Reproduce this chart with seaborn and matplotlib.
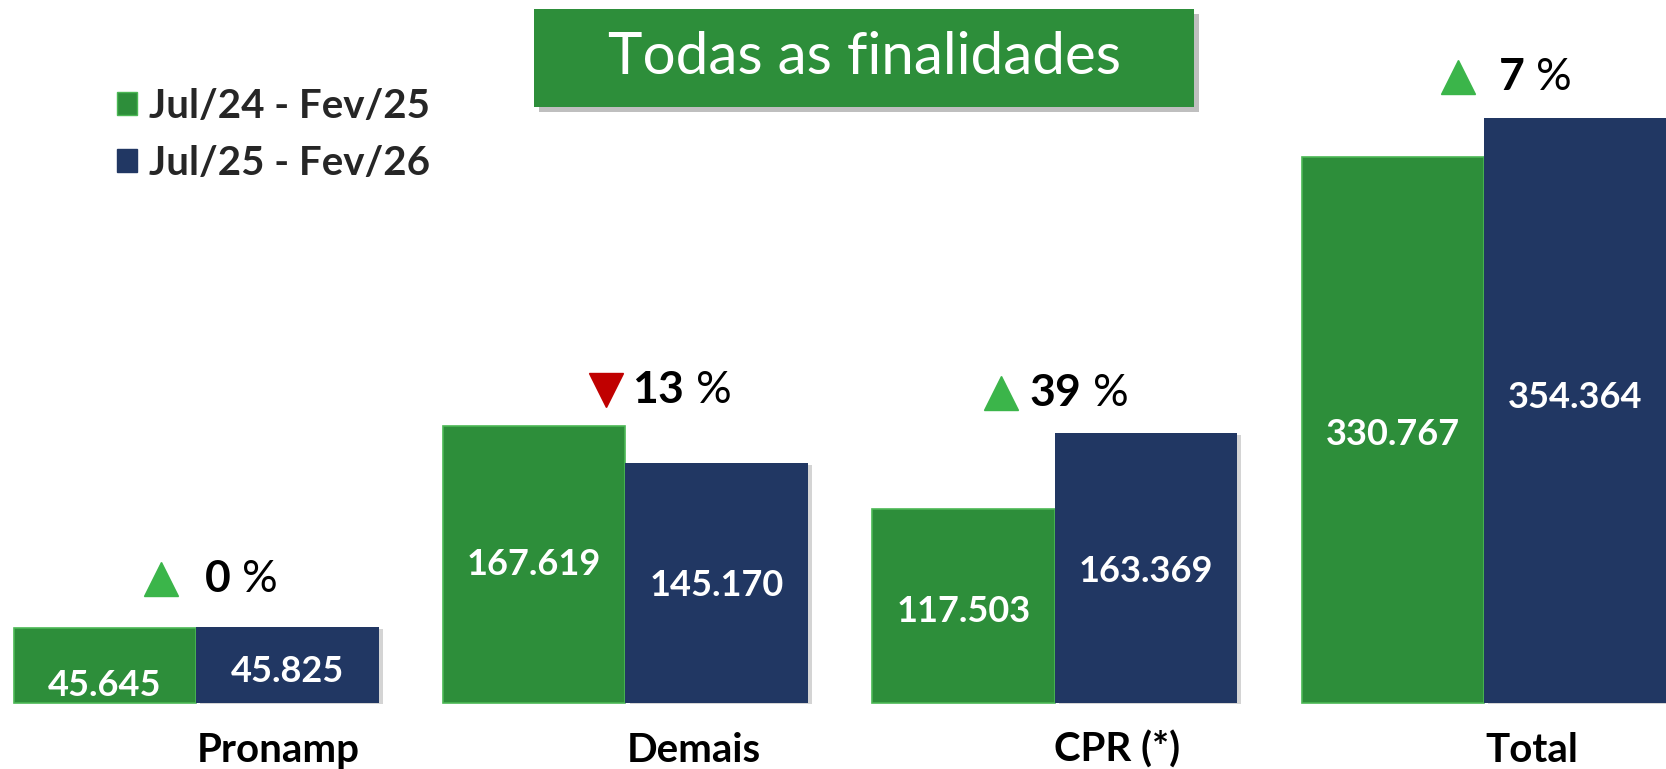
import numpy as np
import pandas as pd
import matplotlib
matplotlib.use('Agg')
import matplotlib.pyplot as plt
import matplotlib.patheffects as pe
import seaborn as sns
from matplotlib.patches import Rectangle, Patch
from matplotlib.transforms import offset_copy

# ---------------- data ----------------
categories = ['Pronamp', 'Demais', 'CPR (*)', 'Total']
periods = ['Jul/24 - Fev/25', 'Jul/25 - Fev/26']
values_prev = [45645, 167619, 117503, 330767]
values_curr = [45825, 145170, 163369, 354364]
title = 'Todas as finalidades'

# ---------------- style ----------------
GREEN = '#2D8E3A'
NAVY = '#213763'
UP = '#3BB54A'
DOWN = '#C00000'
FONT = 'Lato'

# layout offsets (pixels) for annotations
tri_dx = [-35, -19, -54, -26]
txt_dx = [8, 7, -26, 14]
pct_dy = [48, 36, 40, 41]
cat_dx = [82, 68, 62, 48]
lab_dy_prev = [-20, 0, -5, -5]
lab_dy_curr = [-6, -2, -3, 13]

sns.set_theme(style='white')
plt.rcParams['font.family'] = [FONT, 'DejaVu Sans']
plt.rcParams['mathtext.fontset'] = 'custom'
plt.rcParams['mathtext.bf'] = FONT + ':bold'
plt.rcParams['mathtext.rm'] = FONT
plt.rcParams['mathtext.it'] = FONT + ':italic'

df = pd.DataFrame({
    'cat': categories * 2,
    'period': [periods[0]] * len(categories) + [periods[1]] * len(categories),
    'val': values_prev + values_curr,
})

fig = plt.figure(figsize=(16.66, 7.69), dpi=100)
ax = fig.add_axes([0, 0, 1, 1])
sns.barplot(data=df, x='cat', y='val', hue='period', order=categories,
            hue_order=periods, palette=[GREEN, NAVY], saturation=1,
            width=0.85, errorbar=None, legend=False, ax=ax, linewidth=0)
ax.set_xlim(-0.457, 3.424)
ax.set_ylim(-39980, 425850)
ax.set_axis_off()

for p in ax.containers[0]:
    p.set_edgecolor('#4CB855')
    p.set_linewidth(1.2)
for p in ax.containers[1]:
    p.set_path_effects([pe.SimplePatchShadow(offset=(3, -1), alpha=0.25,
                                             shadow_rgbFace='#555555'), pe.Normal()])


def fmt(v):
    return f"{v:,.0f}".replace(',', '.')


for cont, vals, dys in zip(ax.containers, [values_prev, values_curr],
                           [lab_dy_prev, lab_dy_curr]):
    texts = ax.bar_label(cont, labels=[fmt(v) for v in vals], label_type='center',
                         color='white', fontsize=26, fontweight='bold')
    for t, d in zip(texts, dys):
        t.xyann = (0, d * 0.72)

# percentage change annotations
for i, (a, b) in enumerate(zip(values_prev, values_curr)):
    top = max(a, b)
    ch = (b / a - 1) * 100
    up = ch >= 0
    tr = offset_copy(ax.transData, fig=fig, x=tri_dx[i], y=pct_dy[i], units='dots')
    ax.plot([i], [top], marker='^' if up else 'v', ms=24.5,
            color=UP if up else DOWN, transform=tr, clip_on=False)
    ax.annotate(r'$\mathbf{%d}$ %%' % round(abs(ch)), xy=(i, top),
                xytext=(txt_dx[i], pct_dy[i]), textcoords='offset pixels',
                ha='left', va='center', fontsize=32, color='black')

# category labels
for i, c in enumerate(categories):
    ax.annotate(c, xy=(i, 0), xytext=(cat_dx[i], -47), textcoords='offset pixels',
                ha='center', va='center', fontsize=29, fontweight='bold',
                color='black', annotation_clip=False)

# title box
W, H = 1666, 769
x0, y0, x1, y1 = 534, 8.5, 1194, 107
fig.add_artist(Rectangle(((x0 + 5) / W, 1 - (y1 + 5) / H), (x1 - x0) / W, (y1 - y0) / H,
                         transform=fig.transFigure, facecolor='#000000', alpha=0.25,
                         edgecolor='none', zorder=1))
fig.add_artist(Rectangle((x0 / W, 1 - y1 / H), (x1 - x0) / W, (y1 - y0) / H,
                         transform=fig.transFigure, facecolor=GREEN,
                         edgecolor='none', zorder=2))
fig.text(864 / W, 1 - 58 / H, title, ha='center', va='center', color='white',
         fontsize=42, zorder=3)

# legend
handles = [Patch(facecolor=GREEN, edgecolor='#4CB855'), Patch(facecolor=NAVY, edgecolor=NAVY)]
fig.legend(handles, periods, loc='upper left', bbox_to_anchor=(117 / W, 1 - 88 / H),
           frameon=False, prop={'size': 29, 'weight': 'bold'}, handlelength=0.5,
           handleheight=0.5, handletextpad=0.3, labelspacing=0.5,
           borderpad=0, borderaxespad=0)

fig.savefig('out.png', dpi=100)
